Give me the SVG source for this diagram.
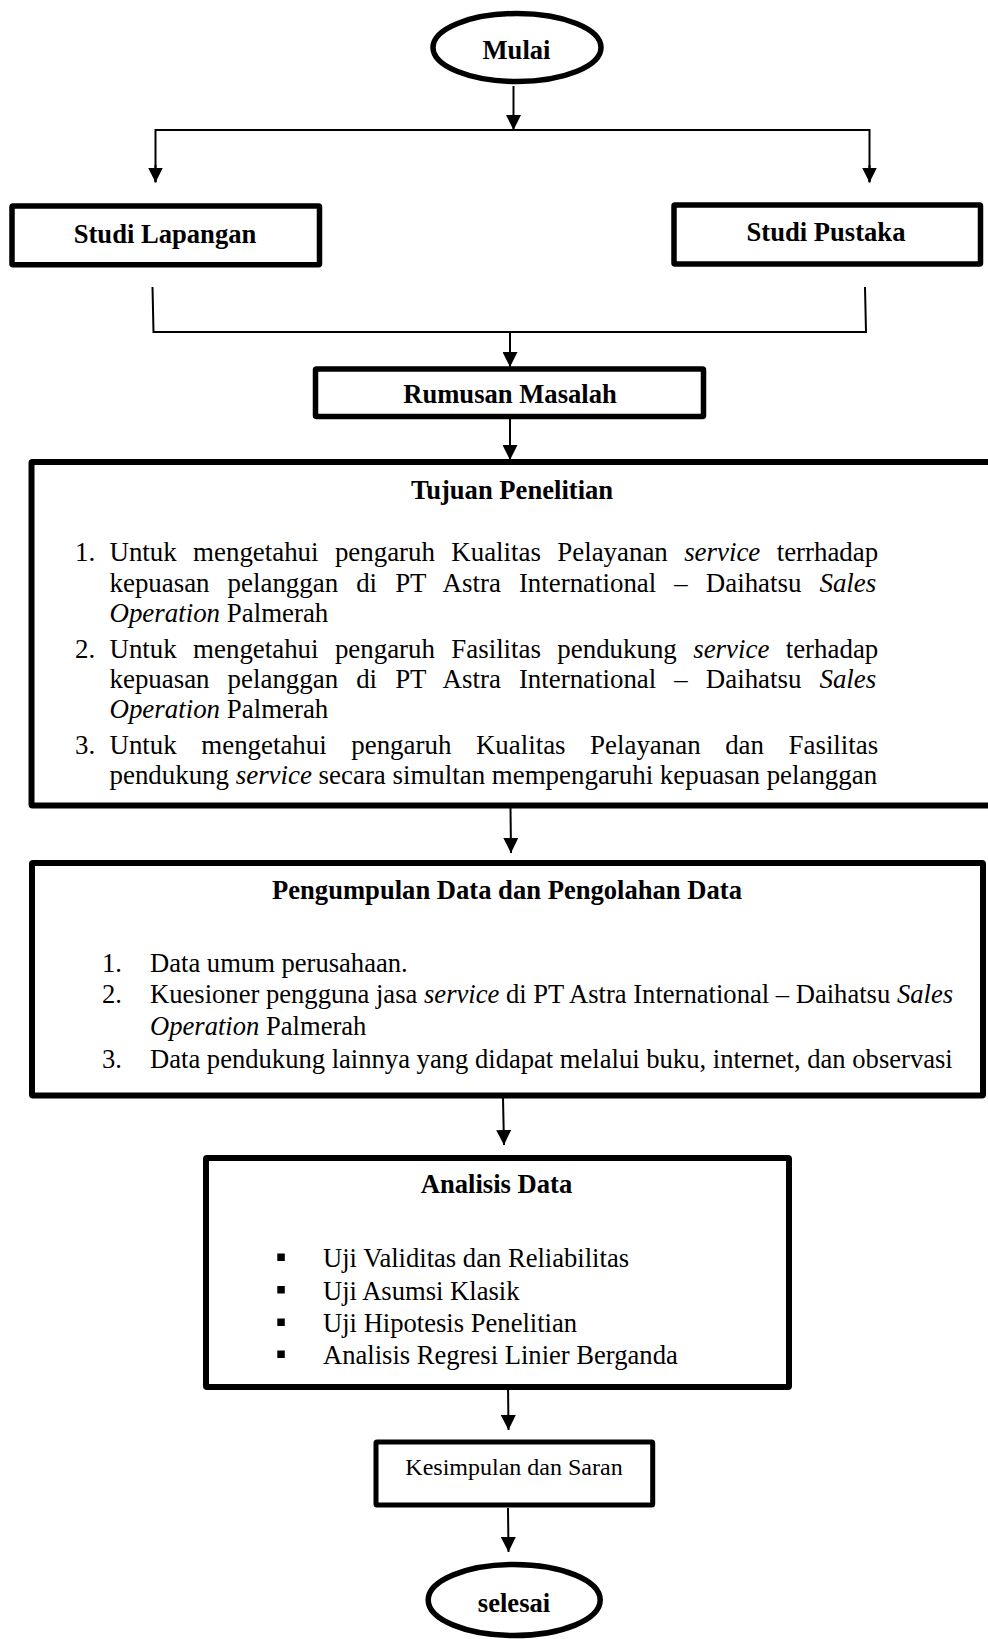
<svg xmlns="http://www.w3.org/2000/svg" width="988" height="1639" viewBox="0 0 988 1639">
<style>
text{font-family:"Liberation Serif","Times New Roman",serif;fill:#000}
.b{font-weight:bold;font-size:26.6px}
.t{font-size:26.9px}
.p{font-size:26.6px}
.c{text-anchor:middle}
.i{font-style:italic}
.box{fill:#fff;stroke:#000;stroke-width:5.5;stroke-linejoin:round}
.con{fill:none;stroke:#000;stroke-width:2}
</style>
<defs>
<marker id="ah" viewBox="0 0 15 15" refX="15" refY="7.5" markerWidth="15" markerHeight="15" markerUnits="userSpaceOnUse" orient="auto">
<path d="M0,0 L15,7.5 L0,15 Z" fill="#000"/>
</marker>
</defs>
<rect width="988" height="1639" fill="#fff"/>

<g id="connectors">
<line class="con" x1="513.5" y1="86" x2="513.5" y2="130" marker-end="url(#ah)"/>
<polyline class="con" points="155.5,182 155.5,130 869.5,130 869.5,182"/>
<line class="con" x1="155.5" y1="165" x2="155.5" y2="182.5" marker-end="url(#ah)"/>
<line class="con" x1="869.5" y1="165" x2="869.5" y2="182.5" marker-end="url(#ah)"/>
<polyline class="con" points="152.5,287 153.5,332 866,332 865,287"/>
<line class="con" x1="510" y1="332" x2="510" y2="367" marker-end="url(#ah)"/>
<line class="con" x1="510" y1="419" x2="510" y2="460" marker-end="url(#ah)"/>
<line class="con" x1="510.5" y1="808" x2="511" y2="853" marker-end="url(#ah)"/>
<line class="con" x1="503" y1="1098" x2="504" y2="1145" marker-end="url(#ah)"/>
<line class="con" x1="508" y1="1384" x2="508.5" y2="1430" marker-end="url(#ah)"/>
<line class="con" x1="508" y1="1508" x2="508.5" y2="1552" marker-end="url(#ah)"/>
</g>

<g id="mulai">
<ellipse class="box" cx="517" cy="47.5" rx="84" ry="34"/>
<text class="b c" x="516.5" y="59">Mulai</text>
</g>

<g id="studi-lapangan">
<rect class="box" x="12" y="206" width="307.5" height="58.7" rx="1"/>
<text class="b c" x="165" y="243">Studi Lapangan</text>
</g>

<g id="studi-pustaka">
<rect class="box" x="674" y="205" width="306.5" height="59" rx="1"/>
<text class="b c" x="826" y="241">Studi Pustaka</text>
</g>

<g id="rumusan-masalah">
<rect class="box" x="315.5" y="369" width="388" height="47.5" rx="1"/>
<text class="b c" x="510" y="403">Rumusan Masalah</text>
</g>

<g id="tujuan-penelitian">
<rect class="box" x="31.5" y="462" width="1000" height="343.5" rx="1" style="stroke-width:6"/>
<text class="b c" x="512" y="499">Tujuan Penelitian</text>
<text class="t" x="75" y="561">1.</text>
<text class="t" x="109.5" y="561" word-spacing="9.64">Untuk mengetahui pengaruh Kualitas Pelayanan <tspan class="i">service</tspan> terrhadap</text>
<text class="t" x="109.5" y="592" word-spacing="11.33">kepuasan pelanggan di PT Astra International – Daihatsu <tspan class="i">Sales</tspan></text>
<text class="t" x="109.5" y="622"><tspan class="i">Operation</tspan> Palmerah</text>
<text class="t" x="75" y="658">2.</text>
<text class="t" x="109.5" y="658" word-spacing="9.64">Untuk mengetahui pengaruh Fasilitas pendukung <tspan class="i">service</tspan> terhadap</text>
<text class="t" x="109.5" y="688" word-spacing="11.33">kepuasan pelanggan di PT Astra International – Daihatsu <tspan class="i">Sales</tspan></text>
<text class="t" x="109.5" y="717.5"><tspan class="i">Operation</tspan> Palmerah</text>
<text class="t" x="75" y="753.5">3.</text>
<text class="t" x="109.5" y="753.5" word-spacing="17.84">Untuk mengetahui pengaruh Kualitas Pelayanan dan Fasilitas</text>
<text class="t" x="109.5" y="783.5">pendukung <tspan class="i">service</tspan> secara simultan mempengaruhi kepuasan pelanggan</text>
</g>

<g id="pengumpulan-data">
<rect class="box" x="32" y="863" width="951" height="232.5" rx="1" style="stroke-width:6"/>
<text class="b c" x="507" y="899">Pengumpulan Data dan Pengolahan Data</text>
<text class="p" x="102" y="972">1.</text>
<text class="p" x="150" y="972">Data umum perusahaan.</text>
<text class="p" x="102" y="1003">2.</text>
<text class="p" x="150" y="1003">Kuesioner pengguna jasa <tspan class="i">service</tspan> di PT Astra International – Daihatsu <tspan class="i">Sales</tspan></text>
<text class="p" x="150" y="1035"><tspan class="i">Operation</tspan> Palmerah</text>
<text class="p" x="102" y="1068">3.</text>
<text class="p" x="150" y="1068">Data pendukung lainnya yang didapat melalui buku, internet, dan observasi</text>
</g>

<g id="analisis-data">
<rect class="box" x="206" y="1158" width="583" height="229" rx="1" style="stroke-width:6"/>
<text class="b c" x="496.5" y="1193">Analisis Data</text>
<rect x="277.3" y="1253.5" width="7.5" height="7.5" fill="#000"/>
<text class="p" x="323" y="1267">Uji Validitas dan Reliabilitas</text>
<rect x="277.3" y="1286" width="7.5" height="7.5" fill="#000"/>
<text class="p" x="323" y="1299.5">Uji Asumsi Klasik</text>
<rect x="277.3" y="1318.5" width="7.5" height="7.5" fill="#000"/>
<text class="p" x="323" y="1332">Uji Hipotesis Penelitian</text>
<rect x="277.3" y="1350.5" width="7.5" height="7.5" fill="#000"/>
<text class="p" x="323" y="1364">Analisis Regresi Linier Berganda</text>
</g>

<g id="kesimpulan-saran">
<rect class="box" x="376" y="1442" width="276.7" height="63" rx="1" style="stroke-width:5"/>
<text class="c" x="514" y="1475" style="font-size:24px">Kesimpulan dan Saran</text>
</g>

<g id="selesai">
<ellipse class="box" cx="514.2" cy="1600" rx="86" ry="35.5"/>
<text class="b c" x="514" y="1611.5">selesai</text>
</g>
</svg>
